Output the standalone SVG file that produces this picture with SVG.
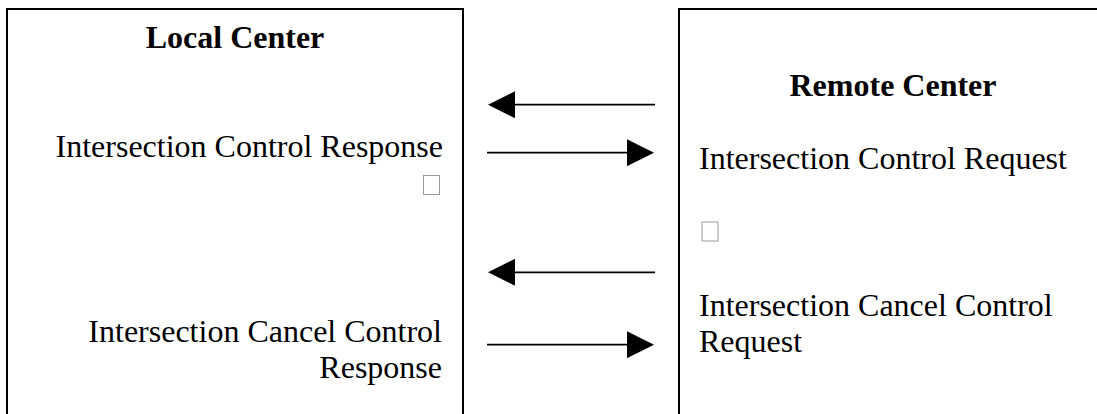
<svg xmlns="http://www.w3.org/2000/svg" width="1097" height="414" viewBox="0 0 1097 414">
  <style>
    .frame { fill: none; stroke: #000; stroke-width: 2; }
    .title { font-family: "Liberation Serif", "Times New Roman", serif; font-size: 32px; font-weight: bold; fill: #000; }
    .msg { font-family: "Liberation Serif", "Times New Roman", serif; font-size: 32px; fill: #000; }
    .flow { stroke: #000; stroke-width: 1.8; fill: none; marker-end: url(#head); }
    .tofu { fill: #fff; stroke: #9a9a9a; stroke-width: 1; }
  </style>
  <defs>
    <marker id="head" markerUnits="userSpaceOnUse" markerWidth="27" markerHeight="27" refX="0" refY="13.5" orient="auto">
      <path d="M0,0 L27,13.5 L0,27 Z" fill="#000"/>
    </marker>
  </defs>
  <rect width="1097" height="414" fill="#fff"/>

  <!-- local side -->
  <g id="local-center">
    <path class="frame" d="M7,420 V9 H463 V420"/>
    <text class="title" x="235" y="48" text-anchor="middle">Local Center</text>
    <text class="msg" x="443" y="157" text-anchor="end">Intersection Control Response</text>
    <rect class="tofu" x="423.5" y="175.5" width="16" height="19"/>
    <text class="msg" x="442" y="342" text-anchor="end">Intersection Cancel Control</text>
    <text class="msg" x="442" y="378" text-anchor="end">Response</text>
  </g>

  <!-- remote side -->
  <g id="remote-center">
    <path class="frame" d="M679,420 V9 H1110"/>
    <text class="title" x="893" y="96" text-anchor="middle">Remote Center</text>
    <text class="msg" x="699" y="169">Intersection Control Request</text>
    <rect class="tofu" x="702" y="222" width="16" height="19"/>
    <text class="msg" x="699" y="316">Intersection Cancel Control</text>
    <text class="msg" x="699" y="352">Request</text>
  </g>

  <!-- message flows between the centers -->
  <g id="connectors">
    <line class="flow" x1="655" y1="104.7" x2="515" y2="104.7"/>
    <line class="flow" x1="487" y1="152.7" x2="627" y2="152.7"/>
    <line class="flow" x1="655" y1="272.3" x2="515" y2="272.3"/>
    <line class="flow" x1="487" y1="344.7" x2="627" y2="344.7"/>
  </g>
</svg>
